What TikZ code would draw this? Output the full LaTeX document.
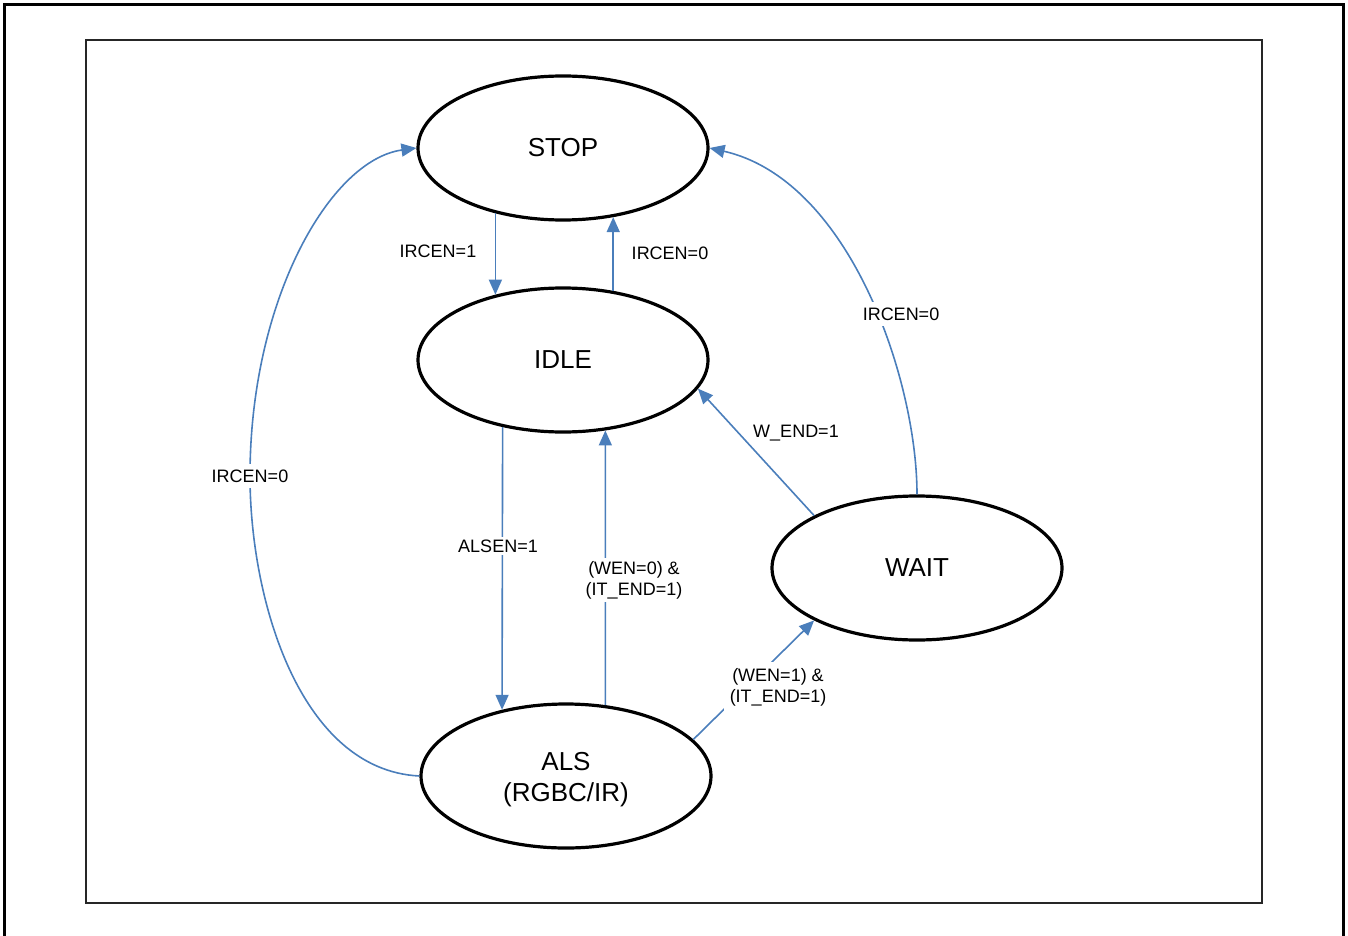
\documentclass[tikz,border=0pt]{standalone}
\usepackage{fontspec}
\setmainfont{Liberation Sans}
\usetikzlibrary{shapes.geometric,arrows.meta}
\definecolor{conn}{HTML}{4A7EBB}
\tikzset{
  state/.style={ellipse,draw=black,line width=3.2pt,minimum width=290pt,minimum height=144pt,inner sep=0pt,font=\fontsize{26}{31}\selectfont,align=center},
  conn/.style={draw=conn,line width=1.6pt,-{Triangle[length=15pt,width=13pt]}},
  lab/.style={font=\fontsize{18}{21}\selectfont,align=center,inner sep=1pt},
  gaplab/.style={lab,fill=white,inner sep=3pt}
}
\begin{document}
\begin{tikzpicture}[x=1pt,y=-1pt]
\useasboundingbox (0,0) rectangle (1348,936);
\draw[line width=3pt] (4,945) -- (4,5) -- (1343,5) -- (1343,945);
\draw[line width=2.5pt,draw=black!85] (86,40) rectangle (1262,903);

\node[state] (stop) at (563,148) {STOP};
\node[state] (idle) at (563,360) {IDLE};
\node[state] (wait) at (917,568) {WAIT};
\node[state] (als) at (566,776) {};
\node[font=\fontsize{26}{31}\selectfont,align=center,inner sep=0pt] (alstext) at (566,780) {ALS\\(RGBC/IR)};

% STOP -> IDLE
\draw[conn] (stop.-136.3) -- (idle.136.3);
\node[lab] (l1) at (438,251) {IRCEN=1};
% IDLE -> STOP
\draw[conn] (idle.54.1) -- (stop.-54.1);
\node[lab] (l2) at (670,253) {IRCEN=0};
% IDLE -> ALS
\draw[conn] (idle.-132.5) -- (als.134.2);
\node[gaplab] (l3) at (498,546) {ALSEN=1};
% ALS -> IDLE
\draw[conn] (als.61.3) -- (idle.-59.3);
\node[gaplab] (l4) at (634,580) {(WEN=0) \&\\(IT\_END=1)};
% ALS -> WAIT
\draw[conn] (als.16.1) -- (wait.-153.4);
\node[gaplab,inner sep=6pt] (l5) at (778,687) {(WEN=1) \&\\(IT\_END=1)};
% WAIT -> IDLE
\draw[conn] (wait.153.4) -- (idle.-12.5);
\node[lab] (l6) at (796,433) {W\_END=1};
% WAIT -> STOP
\draw[conn] (wait.north) .. controls (917,380) and (850,180) .. (stop.east);
\node[gaplab,inner sep=6pt] (l7) at (901,314) {IRCEN=0};
% ALS -> STOP
\draw[conn] (als.west) .. controls (300,770) and (250,600) .. (250,476)
  .. controls (250,300) and (330,160) .. (stop.west);
\node[gaplab,inner sep=6pt] (l8) at (250,476) {IRCEN=0};
\end{tikzpicture}
\end{document}
